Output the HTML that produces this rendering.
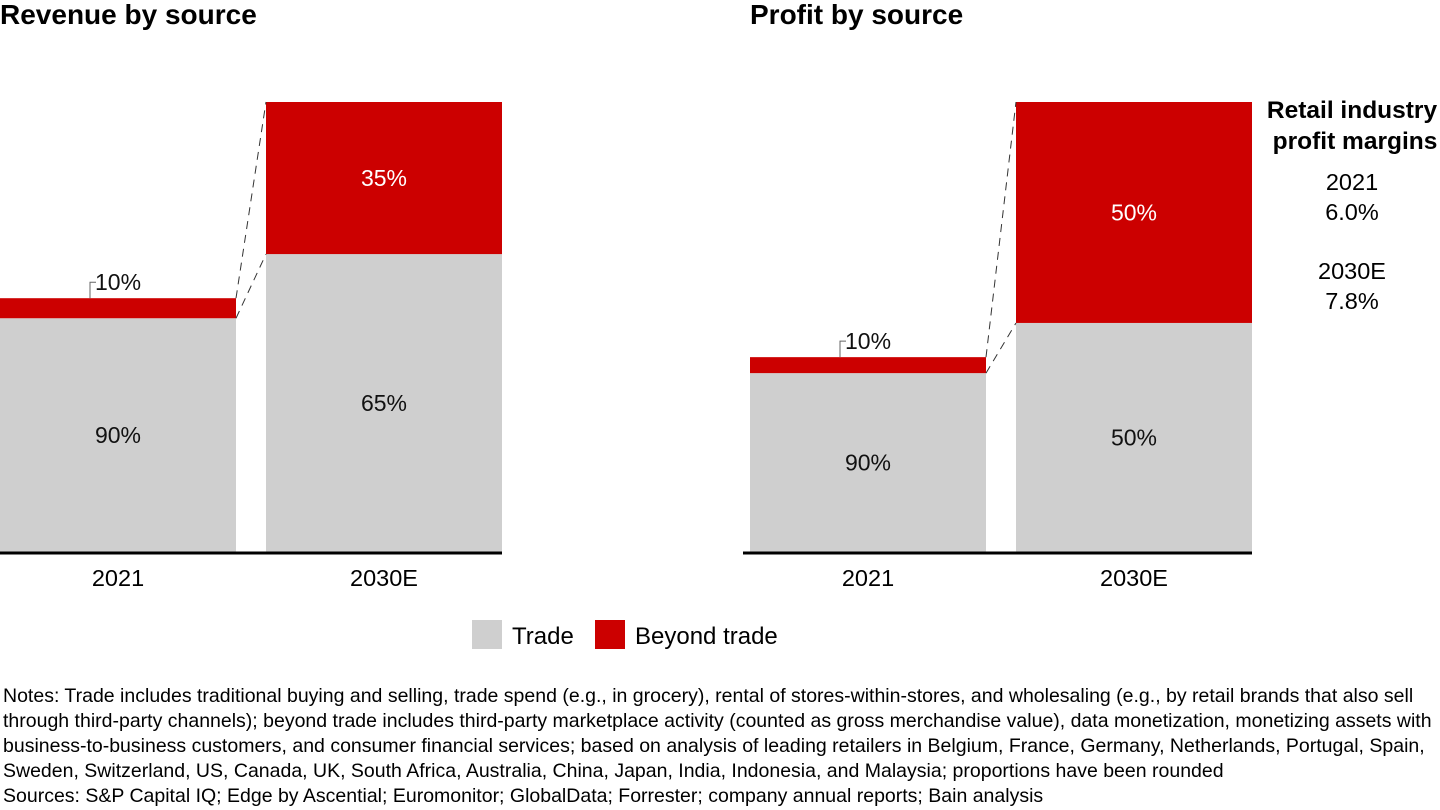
<!DOCTYPE html>
<html><head><meta charset="utf-8"><style>
body{margin:0;width:1440px;height:810px;background:#fff;font-family:"Liberation Sans",sans-serif;overflow:hidden;position:relative}
.t{position:absolute;font-weight:bold;font-size:28px;color:#000;top:-1px}
.notes{position:absolute;left:3px;top:684px;width:1440px;font-size:19.5px;line-height:25px;color:#000;white-space:nowrap}
</style></head><body>
<div class="t" style="left:0">Revenue by source</div>
<div class="t" style="left:750px">Profit by source</div>
<svg id="c" width="1440" height="680" style="position:absolute;left:0;top:0"></svg>
<div class="notes">Notes: Trade includes traditional buying and selling, trade spend (e.g., in grocery), rental of stores-within-stores, and wholesaling (e.g., by retail brands that also sell<br>through third-party channels); beyond trade includes third-party marketplace activity (counted as gross merchandise value), data monetization, monetizing assets with<br>business-to-business customers, and consumer financial services; based on analysis of leading retailers in Belgium, France, Germany, Netherlands, Portugal, Spain,<br>Sweden, Switzerland, US, Canada, UK, South Africa, Australia, China, Japan, India, Indonesia, and Malaysia; proportions have been rounded<br>Sources: S&amp;P Capital IQ; Edge by Ascential; Euromonitor; GlobalData; Forrester; company annual reports; Bain analysis</div>
<script>
const categories=["2021","2030E"];
const revenueTotals=[56.4,100];
const revenueTrade=[92.1,66.2];
const revenueBeyond=[7.9,33.8];
const revenueTradeLabels=["90%","65%"];
const revenueBeyondLabels=["10%","35%"];
const profitTotals=[43.3,100];
const profitTrade=[91.8,50.9];
const profitBeyond=[8.2,49.1];
const profitTradeLabels=["90%","50%"];
const profitBeyondLabels=["10%","50%"];
const svg=document.getElementById('c');
const NS='http://www.w3.org/2000/svg';
function el(tag,attrs,txt){const e=document.createElementNS(NS,tag);for(const k in attrs)e.setAttribute(k,attrs[k]);if(txt!=null)e.textContent=txt;svg.appendChild(e);return e;}
const base=552,full=450;
function y(v){return base-v/100*full;}
function chart(x0,name,totals,trade,beyond,tl,bl){
  const bw=236,gap=30,tops=[];
  categories.forEach((c,i)=>{
    const x=x0+i*(bw+gap);
    const tot=totals[i];
    const tH=tot*trade[i]/(trade[i]+beyond[i]);
    const gTop=y(tH),rTop=y(tot);
    let r=el('rect',{x:x,y:gTop,width:bw,height:base-gTop,fill:'#cfcfcf'});
    
    
    r=el('rect',{x:x,y:rTop,width:bw,height:gTop-rTop,fill:'#cc0000'});
    
    
    tops.push([rTop,gTop,x]);
    let t=el('text',{x:x+bw/2,y:(gTop+base)/2+8,'text-anchor':'middle','font-size':23,fill:'#111'},tl[i]);
    
    
    if(gTop-rTop>40){
      t=el('text',{x:x+bw/2,y:(gTop+rTop)/2+8,'text-anchor':'middle','font-size':23,fill:'#fff'},bl[i]);
    }else{
      el('path',{d:`M${x+90} ${rTop} V${rTop-16} H${x+96}`,stroke:'#666','stroke-width':1,fill:'none'});
      t=el('text',{x:x+95,y:rTop-8,'font-size':23,fill:'#111'},bl[i]);
    }
    
    
    t=el('text',{x:x+bw/2,y:586,'text-anchor':'middle','font-size':23.5,fill:'#000'},c);
    
    
  });
  const a=tops[0],b=tops[1];
  el('line',{x1:a[2]+bw,y1:a[0],x2:b[2],y2:b[0],stroke:'#333','stroke-dasharray':'8,6','stroke-width':1});
  el('line',{x1:a[2]+bw,y1:a[1],x2:b[2],y2:b[1],stroke:'#333','stroke-dasharray':'8,6','stroke-width':1});
  const l=el('line',{x1:x0-7,y1:553,x2:x0+2*bw+gap,y2:553,stroke:'#000','stroke-width':3});
  
  
}
chart(0,'revenue',revenueTotals,revenueTrade,revenueBeyond,revenueTradeLabels,revenueBeyondLabels);
chart(750,'profit',profitTotals,profitTrade,profitBeyond,profitTradeLabels,profitBeyondLabels);
function txt(x,yy,s,name,opts){const t=el('text',Object.assign({x:x,y:yy,'font-size':23.5,fill:'#000','text-anchor':'middle'},opts||{}),s);}
txt(1352,118,'Retail industry','margins-title-line1',{'font-weight':'bold','font-size':24.5});
txt(1355,149,'profit margins','margins-title-line2',{'font-weight':'bold','font-size':24.5});
txt(1352,190,'2021','margin-year-2021');
txt(1352,220,'6.0%','margin-value-2021');
txt(1352,279,'2030E','margin-year-2030e');
txt(1352,309,'7.8%','margin-value-2030e');
let r=el('rect',{x:472,y:620,width:30,height:29,fill:'#cfcfcf'});


txt(512,644,'Trade','legend-trade',{'text-anchor':'start','font-size':24});
r=el('rect',{x:595,y:620,width:30,height:29,fill:'#cc0000'});


txt(635,644,'Beyond trade','legend-beyond',{'text-anchor':'start','font-size':24});
</script>
</body></html>
